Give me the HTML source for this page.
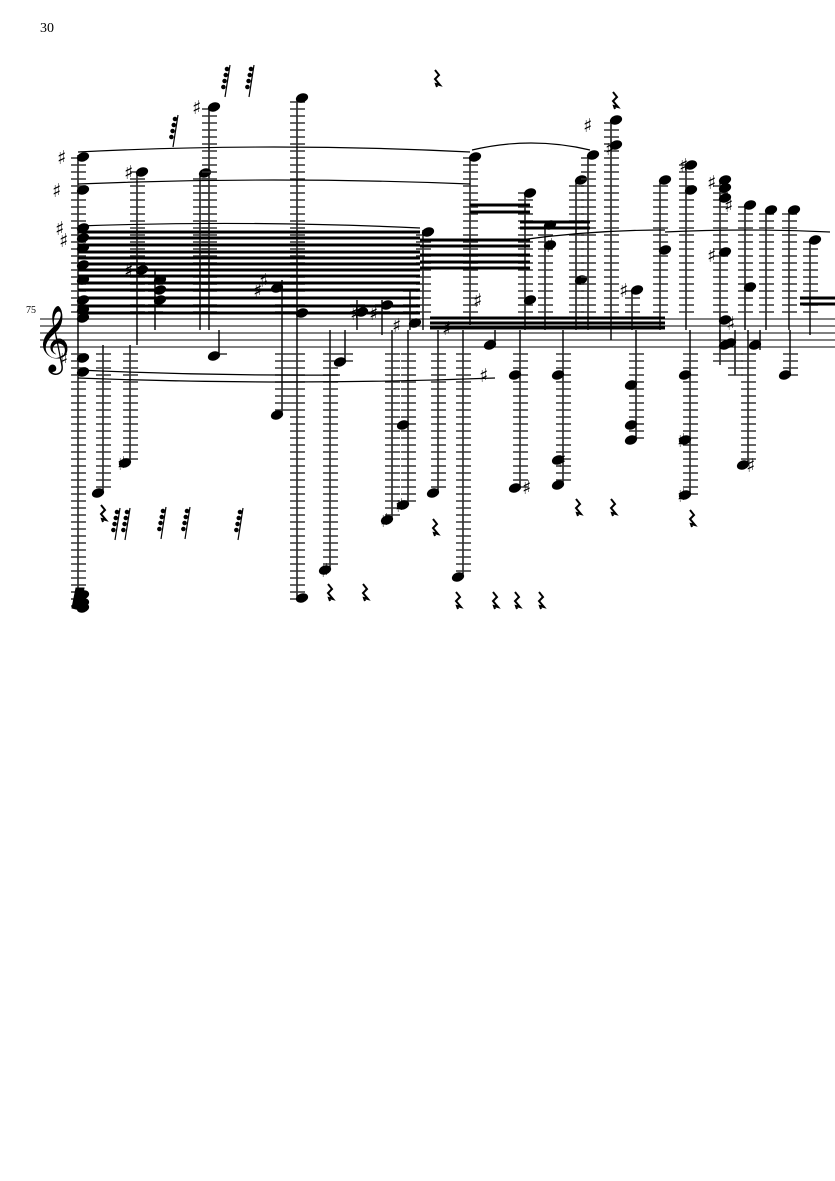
<!DOCTYPE html>
<html><head><meta charset="utf-8"><style>
html,body{margin:0;padding:0;background:#fff;}
svg{display:block}
</style></head><body>
<svg id="s" width="835" height="1181" viewBox="0 0 835 1181" xmlns="http://www.w3.org/2000/svg">
<text x="40" y="32" font-family="Liberation Serif, serif" font-size="14">30</text>
<text x="26" y="313" font-family="Liberation Serif, serif" font-size="10">75</text>
<text x="36" y="358" font-family="DejaVu Serif, serif" font-size="58">𝄞</text>
<g id="g" stroke="#000" fill="#000"></g>
</svg>
<script>
var g=document.getElementById('g');var out='';
var staff=[319,326,333,340,347];
staff.forEach(function(y){out+='<line x1="40" x2="835" y1="'+y+'" y2="'+y+'" stroke-width="0.9"/>';});
function N(x,top,bot,heads,up){
 out+='<line x1="'+x+'" x2="'+x+'" y1="'+top+'" y2="'+bot+'" stroke-width="1.4"/>';
 for(var y=312;y>=top;y-=7) out+='<line x1="'+(x-7)+'" x2="'+(x+8)+'" y1="'+y+'" y2="'+y+'" stroke-width="1.5" stroke="#333"/>';
 for(var y=354;y<=bot;y+=7) out+='<line x1="'+(x-7)+'" x2="'+(x+8)+'" y1="'+y+'" y2="'+y+'" stroke-width="1.5" stroke="#333"/>';
 heads.forEach(function(h){var cx=up?x-5:x+5;out+='<ellipse cx="'+cx+'" cy="'+h+'" rx="5.8" ry="4" transform="rotate(-20 '+cx+' '+h+')"/>';});
}
function B(x1,x2,ys,w){ys.forEach(function(y){out+='<line x1="'+x1+'" x2="'+x2+'" y1="'+y+'" y2="'+y+'" stroke-width="'+(w||3)+'"/>';});}
function S(x1,y1,x2,y2,d){out+='<path d="M'+x1+' '+y1+' Q'+((x1+x2)/2)+' '+(y1+d)+' '+x2+' '+y2+'" fill="none" stroke-width="1.2"/>';}
function R(x,y){out+='<path d="M'+(x-2)+' '+(y-8)+' l4 5 l-4 4 l5 6 l-4 -1 l1 3" fill="none" stroke-width="2"/>';}
function G(x,y){out+='<line x1="'+x+'" x2="'+(x-5)+'" y1="'+y+'" y2="'+(y+32)+'" stroke-width="1.2"/>';for(var i=0;i<4;i++){out+='<circle cx="'+(x-3-i*1.2)+'" cy="'+(y+4+i*6)+'" r="1.8"/>';}}
function A(x,y){out+='<text x="'+(x-3)+'" y="'+(y+7)+'" font-family="DejaVu Sans, sans-serif" font-weight="bold" font-size="19" stroke="none">♯</text>';}
N(78,155,610,[157,190,228,238,248,265,280,300,310,318,358,372,595,603,608]);
N(103,345,493,[493],true);
N(137,172,345,[172,270]);
N(130,345,463,[463],true);
N(155,270,330,[280,290,300]);
N(200,173,330,[173]);
N(209,107,330,[107]);
N(219,330,356,[356],true);
N(297,98,600,[98,313,598]);
N(282,280,415,[288,415],true);
N(330,330,570,[570],true);
N(345,330,362,[362],true);
N(357,300,330,[312]);
N(392,330,520,[520],true);
N(408,330,505,[505,425],true);
N(382,300,335,[305]);
N(410,290,330,[323]);
N(438,330,493,[493],true);
N(423,230,330,[232]);
N(463,330,577,[577],true);
N(470,157,325,[157]);
N(495,330,345,[345],true);
N(525,193,330,[193,300]);
N(520,330,488,[488,375],true);
N(545,225,330,[225,245]);
N(563,330,485,[485,460,375],true);
N(576,180,330,[180,280]);
N(588,155,330,[155]);
N(611,120,340,[120,145]);
N(632,290,330,[290]);
N(660,180,330,[180,250]);
N(636,330,440,[440,425,385],true);
N(686,165,330,[165,190]);
N(690,330,495,[495,440,375],true);
N(720,180,342,[180,188,198,252,320]);
N(745,205,330,[205,287]);
N(766,210,330,[210]);
N(735,330,375,[343],true);
N(789,210,330,[210]);
N(810,240,335,[240]);
N(748,330,465,[465],true);
N(790,330,375,[375],true);
N(760,330,350,[345],true);
N(720,330,365,[345]);
[[60,157],[55,190],[58,228],[62,240],[127,172],[127,270],[195,107],[256,290],[262,280],[353,313],[372,313],[395,325],[445,328],[476,300],[482,375],[525,487],[548,245],[560,460],[586,125],[608,148],[622,290],[680,440],[680,495],[682,165],[710,182],[710,255],[727,205],[729,323],[749,465],[323,570],[383,520],[398,505],[120,463],[62,358]].forEach(function(a){A(a[0],a[1]);});
B(78,420,[232,238,245,252,258,264,270,276,283,290,298,306,313]);
B(420,530,[240,246,255,262,268]);
B(470,530,[205,212]);
B(520,590,[222,228]);
B(430,665,[318,323,328]);
B(800,835,[298,304]);
S(78,152,470,152,-10);S(78,184,470,184,-8);S(472,150,590,150,-14);S(78,226,420,228,-6);
S(78,370,340,375,6);S(78,378,495,378,8);S(520,240,665,230,-10);S(665,232,830,232,-4);
[[437,78],[615,100],[435,527],[578,507],[613,507],[692,518],[103,513],[330,592],[365,592],[458,600],[495,600],[517,600],[541,600]].forEach(function(r){R(r[0],r[1]);});
[[178,115],[230,65],[254,65],[120,508],[130,508],[166,507],[190,507],[243,508]].forEach(function(p){G(p[0],p[1]);});
out+='<path d="M76 588 l8 0 l-4 22 l-8 -2z"/>';
g.innerHTML=out;
</script>
</body></html>
